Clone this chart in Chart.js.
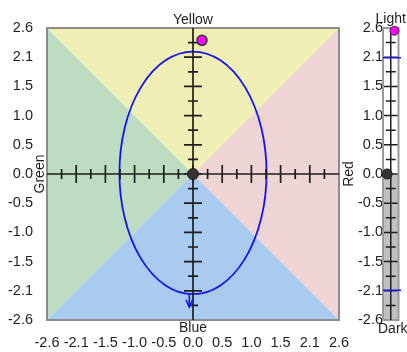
<!DOCTYPE html>
<html>
<head>
<meta charset="utf-8">
<script src="https://cdn.jsdelivr.net/npm/chart.js@4.4.1/dist/chart.umd.min.js"></script>
<style>
  html, body { margin: 0; padding: 0; background: #fff; }
  #wrap { position: relative; width: 407px; height: 352px; }
  #main { position: absolute; left: 0; top: 0; }
  #side { position: absolute; left: 355px; top: 0; }
</style>
</head>
<body>
<div id="wrap">
  <canvas id="main" width="407" height="352"></canvas>
  <canvas id="side" width="52" height="352"></canvas>
</div>
<script>
const axisMin = -2.6;
const axisMax = 2.6;
const tickValues = [-2.6, -2.08, -1.56, -1.04, -0.52, 0, 0.52, 1.04, 1.56, 2.08, 2.6];
const tickLabels = ['-2.6', '-2.1', '-1.5', '-1.0', '-0.5', '0.0', '0.5', '1.0', '1.5', '2.1', '2.6'];

// hue regions (triangle corners) and their names
const yellowRegion = [[0, 0], [-2.6, 2.6], [2.6, 2.6]];
const redRegion = [[0, 0], [2.6, 2.6], [2.6, -2.6]];
const blueRegion = [[0, 0], [2.6, -2.6], [-2.6, -2.6]];
const greenRegion = [[0, 0], [-2.6, -2.6], [-2.6, 2.6]];
const regionColors = ['#eeeeb5', '#eed4d5', '#a9cbf0', '#bedcc1'];
const regionNames = ['Yellow', 'Red', 'Blue', 'Green'];

const ellipseCenter = [0, 0.02];
const ellipseRadii = [1.31, 2.16];
const arrowShaft = [[-0.066, -2.14], [-0.066, -2.37]];
const arrowHead = [[-0.126, -2.24], [-0.066, -2.37], [-0.006, -2.24]];
const targetPoint = [0.16, 2.38];
const originPoint = [0, 0];

// lightness bar
const barLight = [[-1, 0], [1, 0], [1, 2.6], [-1, 2.6]];
const barDark = [[-1, -2.6], [1, -2.6], [1, 0], [-1, 0]];
const barOutline = [[-1, -2.6], [1, -2.6], [1, 2.6], [-1, 2.6], [-1, -2.6]];
const barLimitTop = [[-1, 2.07], [1.32, 2.07]];
const barLimitBottom = [[-1, -2.07], [1.32, -2.07]];
const lightPoint = [0.47, 2.55];
const darkPoint = [-0.47, 0];

const FONT = 'Arial, "Liberation Sans", sans-serif';
const BLUE = 'rgb(20,20,240)';
const INK = '#1e1e1e';

const pts = arr => arr.map(([x, y]) => ({ x, y }));

function lineSet(arr, color, width) {
    return { data: pts(arr), showLine: true, borderColor: color, borderWidth: width, pointRadius: 0, clip: false };
}

function regionSet(arr, color) {
    return {
        data: pts(arr), showLine: true, fill: 'shape', backgroundColor: color,
        borderColor: 'rgba(0,0,0,0)', borderWidth: 0, pointRadius: 0
    };
}

function valueTicks(scale) {
    scale.ticks = tickValues.map(v => ({ value: v }));
}

function tickFont() {
    return { family: FONT, size: 14.5 };
}

// ticks along a line, major at tickValues and minor half way
function drawTicks(ctx, along, major, minor, draw) {
    tickValues.forEach((v, i) => {
        if (i > 0 && i < tickValues.length - 1) {
            draw(along.getPixelForValue(v), major);
        }
        if (i < tickValues.length - 1) {
            draw(along.getPixelForValue((v + tickValues[i + 1]) / 2), minor);
        }
    });
}

const hueDecor = {
    id: 'hueDecor',
    beforeDatasetsDraw(chart) {
        const { ctx, chartArea, scales: { x, y } } = chart;
        ctx.save();
        ctx.strokeStyle = '#8c8c8c';
        ctx.lineWidth = 2;
        ctx.strokeRect(chartArea.left, chartArea.top, chartArea.right - chartArea.left, chartArea.bottom - chartArea.top);

        const cx = x.getPixelForValue(ellipseCenter[0]);
        const cy = y.getPixelForValue(ellipseCenter[1]);
        const rx = Math.abs(x.getPixelForValue(ellipseCenter[0] + ellipseRadii[0]) - cx);
        const ry = Math.abs(y.getPixelForValue(ellipseCenter[1] + ellipseRadii[1]) - cy);
        ctx.strokeStyle = BLUE;
        ctx.lineWidth = 1.8;
        ctx.beginPath();
        ctx.ellipse(cx, cy, rx, ry, 0, 0, 2 * Math.PI);
        ctx.stroke();

        const x0 = x.getPixelForValue(0);
        const y0 = y.getPixelForValue(0);
        ctx.strokeStyle = INK;
        ctx.lineWidth = 1.7;
        ctx.beginPath();
        drawTicks(ctx, x, 9, 5, (p, len) => { ctx.moveTo(p, y0 - len); ctx.lineTo(p, y0 + len); });
        drawTicks(ctx, y, 9, 5, (p, len) => { ctx.moveTo(x0 - len, p); ctx.lineTo(x0 + len, p); });
        ctx.stroke();
        ctx.restore();
    },
    afterDraw(chart) {
        const { ctx, chartArea } = chart;
        const mx = (chartArea.left + chartArea.right) / 2;
        const my = (chartArea.top + chartArea.bottom) / 2;
        ctx.save();
        ctx.fillStyle = INK;
        ctx.font = '14px ' + FONT;
        ctx.textAlign = 'center';
        ctx.textBaseline = 'alphabetic';
        ctx.fillText(regionNames[0], mx, chartArea.top - 4);
        ctx.fillText(regionNames[2], mx, chartArea.bottom + 12);
        ctx.save();
        ctx.translate(chartArea.right + 14, my);
        ctx.rotate(-Math.PI / 2);
        ctx.fillText(regionNames[1], 0, 0);
        ctx.restore();
        ctx.save();
        ctx.translate(chartArea.left - 3, my);
        ctx.rotate(-Math.PI / 2);
        ctx.fillText(regionNames[3], 0, 0);
        ctx.restore();
        ctx.restore();
    }
};

new Chart(document.getElementById('main'), {
    type: 'scatter',
    data: {
        datasets: [
            { data: pts([targetPoint]), pointRadius: 5, pointBackgroundColor: '#ff00ff', pointBorderColor: '#333', pointBorderWidth: 1.5, clip: false },
            { data: pts([originPoint]), pointRadius: 5.5, pointBackgroundColor: '#333', pointBorderColor: INK, pointBorderWidth: 1, clip: false },
            lineSet(arrowShaft, BLUE, 1.6),
            lineSet(arrowHead, BLUE, 1.6),
            lineSet([[axisMin, 0], [axisMax, 0]], INK, 1.7),
            lineSet([[0, axisMin], [0, axisMax]], INK, 1.7),
            regionSet(yellowRegion, regionColors[0]),
            regionSet(redRegion, regionColors[1]),
            regionSet(blueRegion, regionColors[2]),
            regionSet(greenRegion, regionColors[3])
        ]
    },
    options: {
        responsive: false,
        animation: false,
        events: [],
        layout: { padding: { top: 28, right: 68, left: 0, bottom: 0 } },
        plugins: {
            legend: { display: false },
            tooltip: { enabled: false },
            filler: { drawTime: 'beforeDatasetsDraw' }
        },
        scales: {
            x: {
                type: 'linear', min: axisMin, max: axisMax,
                grid: { display: false, drawTicks: false },
                border: { display: false },
                ticks: {
                    autoSkip: false, minRotation: 0, maxRotation: 0, padding: 14, color: INK,
                    font: tickFont(), callback: (v, i) => tickLabels[i]
                },
                afterBuildTicks: valueTicks,
                afterFit: s => { s.height = 32; }
            },
            y: {
                type: 'linear', min: axisMin, max: axisMax,
                grid: { display: false, drawTicks: false },
                border: { display: false },
                ticks: {
                    autoSkip: false, padding: 14, color: INK,
                    font: tickFont(), callback: (v, i) => tickLabels[i]
                },
                afterBuildTicks: valueTicks,
                afterFit: s => { s.width = 47; }
            }
        }
    },
    plugins: [hueDecor]
});

const barDecor = {
    id: 'barDecor',
    beforeDatasetsDraw(chart) {
        const { ctx, scales: { x, y } } = chart;
        const x0 = x.getPixelForValue(0);
        const half = Math.abs(x.getPixelForValue(1) - x0);
        ctx.save();
        ctx.strokeStyle = INK;
        ctx.lineWidth = 1.5;
        ctx.beginPath();
        drawTicks(ctx, y, half, 5, (p, len) => { ctx.moveTo(x0 - len, p); ctx.lineTo(x0 + len, p); });
        ctx.stroke();
        ctx.restore();
    },
    afterDraw(chart) {
        const { ctx, chartArea, scales: { x } } = chart;
        const x0 = x.getPixelForValue(0);
        ctx.save();
        ctx.fillStyle = INK;
        ctx.font = '14px ' + FONT;
        ctx.textAlign = 'center';
        ctx.fillText('Light', x0, chartArea.top - 5);
        ctx.fillText('Dark', x0 + 2, chartArea.bottom + 13);
        ctx.restore();
    }
};

new Chart(document.getElementById('side'), {
    type: 'scatter',
    data: {
        datasets: [
            { data: pts([lightPoint]), pointRadius: 4.5, pointBackgroundColor: '#ff00ff', pointBorderColor: '#333', pointBorderWidth: 1, clip: false },
            { data: pts([darkPoint]), pointRadius: 5, pointBackgroundColor: '#333', pointBorderColor: INK, pointBorderWidth: 1, clip: false },
            lineSet(barLimitTop, BLUE, 1.5),
            lineSet(barLimitBottom, BLUE, 1.5),
            lineSet([[0, axisMin], [0, axisMax]], INK, 1.5),
            lineSet(barOutline, '#9a9a9a', 2),
            regionSet(barLight, '#ffffff'),
            regionSet(barDark, '#c0c0c0')
        ]
    },
    options: {
        responsive: false,
        animation: false,
        events: [],
        layout: { padding: { top: 28, right: 2, left: 0, bottom: 32 } },
        plugins: {
            legend: { display: false },
            tooltip: { enabled: false },
            filler: { drawTime: 'beforeDatasetsDraw' }
        },
        scales: {
            x: { type: 'linear', min: -1, max: 1.32, display: false },
            y: {
                type: 'linear', min: axisMin, max: axisMax,
                grid: { display: false, drawTicks: false },
                border: { display: false },
                ticks: {
                    autoSkip: false, padding: 0, color: INK,
                    font: tickFont(), callback: (v, i) => tickLabels[i]
                },
                afterBuildTicks: valueTicks,
                afterFit: s => { s.width = 28; }
            }
        }
    },
    plugins: [barDecor]
});
</script>
</body>
</html>
